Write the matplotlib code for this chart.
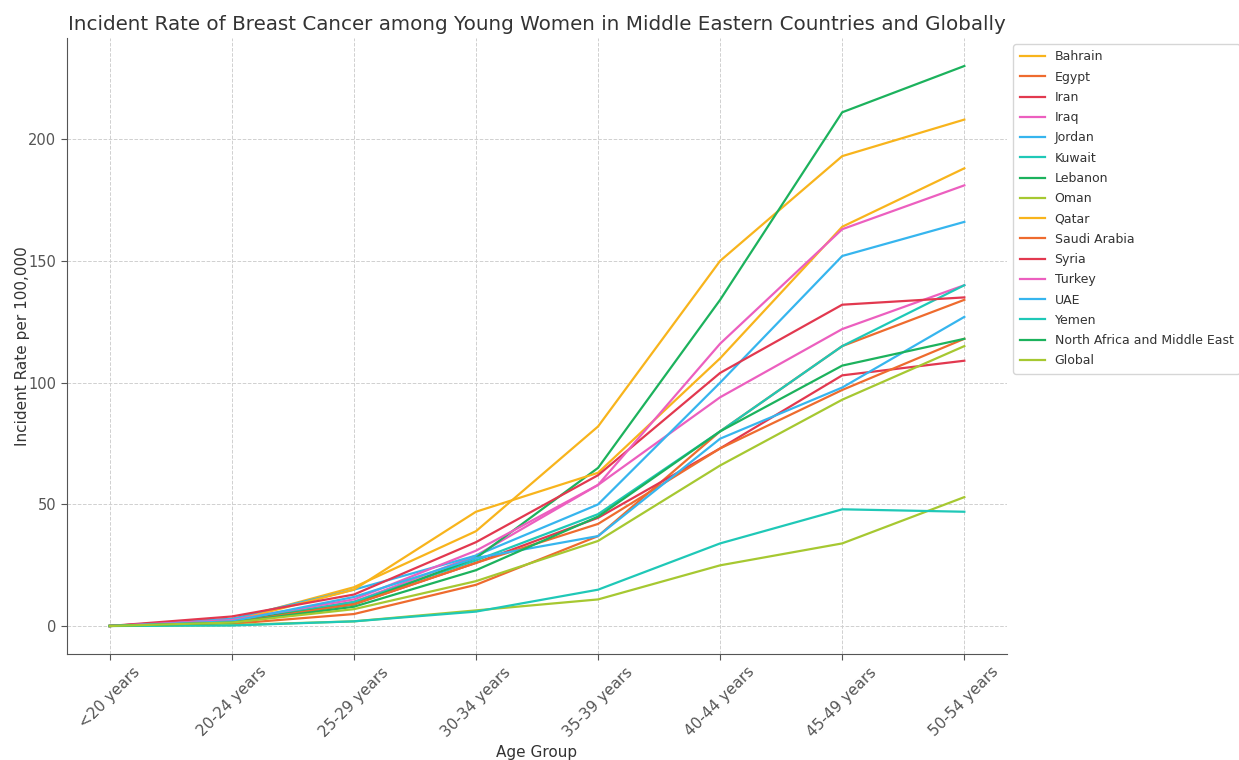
import matplotlib
matplotlib.use("Agg")
from matplotlib import pyplot as plt

# ---- Data ----

age_groups = ["<20 years", "20-24 years", "25-29 years", "30-34 years",
              "35-39 years", "40-44 years", "45-49 years", "50-54 years"]

bahrain = [0.1, 2.5, 16, 39, 82, 150, 193, 208]
egypt = [0.1, 1.0, 5, 17, 37, 80, 115, 134]
iran = [0.1, 3.0, 9, 26, 44.5, 73, 103, 109]
iraq = [0.1, 2.0, 10, 29, 58, 94, 122, 140]
jordan = [0.1, 3.0, 15, 29, 50, 100, 152, 166]
kuwait = [0.1, 2.0, 10, 27, 46, 80, 115, 140]
lebanon = [0.1, 2.0, 9, 28, 65, 134, 211, 230]
oman = [0.1, 0.5, 2, 6.5, 11, 25, 34, 53]
qatar = [0.1, 2.0, 15, 47, 63, 110, 164, 188]
saudi_arabia = [0.1, 1.5, 9, 26, 42, 73, 97, 118]
syria = [0.1, 4.0, 13, 34.5, 62, 104, 132, 135]
turkey = [0.1, 2.5, 11, 31, 58, 116, 163, 181]
uae = [0.1, 2.0, 12, 28, 37, 77, 98, 127]
yemen = [0.1, 0.3, 2, 6, 15, 34, 48, 47]
north_africa_me = [0.1, 1.5, 8, 23, 45, 80, 107, 118]
global_rate = [0.1, 1.5, 7, 18.5, 35, 66, 93, 115]

series = [
    ("Bahrain", bahrain), ("Egypt", egypt), ("Iran", iran), ("Iraq", iraq),
    ("Jordan", jordan), ("Kuwait", kuwait), ("Lebanon", lebanon), ("Oman", oman),
    ("Qatar", qatar), ("Saudi Arabia", saudi_arabia), ("Syria", syria),
    ("Turkey", turkey), ("UAE", uae), ("Yemen", yemen),
    ("North Africa and Middle East", north_africa_me), ("Global", global_rate),
]

# colour cycle of 8, repeats for the second half of the legend
palette = ["#F8B41C", "#EE6B2E", "#E2384F", "#EC5FBF",
           "#36B5EE", "#1FC8B7", "#1CB25D", "#A6C831"]

text_color = "#333333"

# ---- Figure ----

fig = plt.figure(figsize=(12.39, 7.6), dpi=100)
ax = fig.add_axes([0.054, 0.1395, 0.7588, 0.8105])

x = list(range(len(age_groups)))
for i, (name, values) in enumerate(series):
    ax.plot(x, values, color=palette[i % len(palette)], linewidth=1.6, label=name)

ax.set_xticks(x)
ax.set_xticklabels(age_groups, rotation=45, fontsize=11, color=text_color)
ax.set_yticks([0, 50, 100, 150, 200])
ax.tick_params(axis="y", labelsize=10.5, labelcolor=text_color)
ax.tick_params(colors="#555555", length=4)

ax.grid(True, linestyle="--", color="#d0d0d0", linewidth=0.7)
ax.set_axisbelow(True)
for side in ["top", "right"]:
    ax.spines[side].set_visible(False)
for side in ["left", "bottom"]:
    ax.spines[side].set_color("#555555")

ax.set_title("Incident Rate of Breast Cancer among Young Women in Middle Eastern Countries and Globally",
             fontsize=14.3, color=text_color, pad=6)
ax.set_xlabel("Age Group", fontsize=11, color=text_color)
ax.set_ylabel("Incident Rate per 100,000", fontsize=11, color=text_color, labelpad=-1)

leg = ax.legend(loc="upper left", bbox_to_anchor=(1.0, 1.0), fontsize=9,
                labelspacing=0.58, borderpad=0.5, frameon=True, labelcolor=text_color)
leg.get_frame().set_edgecolor("#cccccc")

fig.savefig("out.png", dpi=100)
